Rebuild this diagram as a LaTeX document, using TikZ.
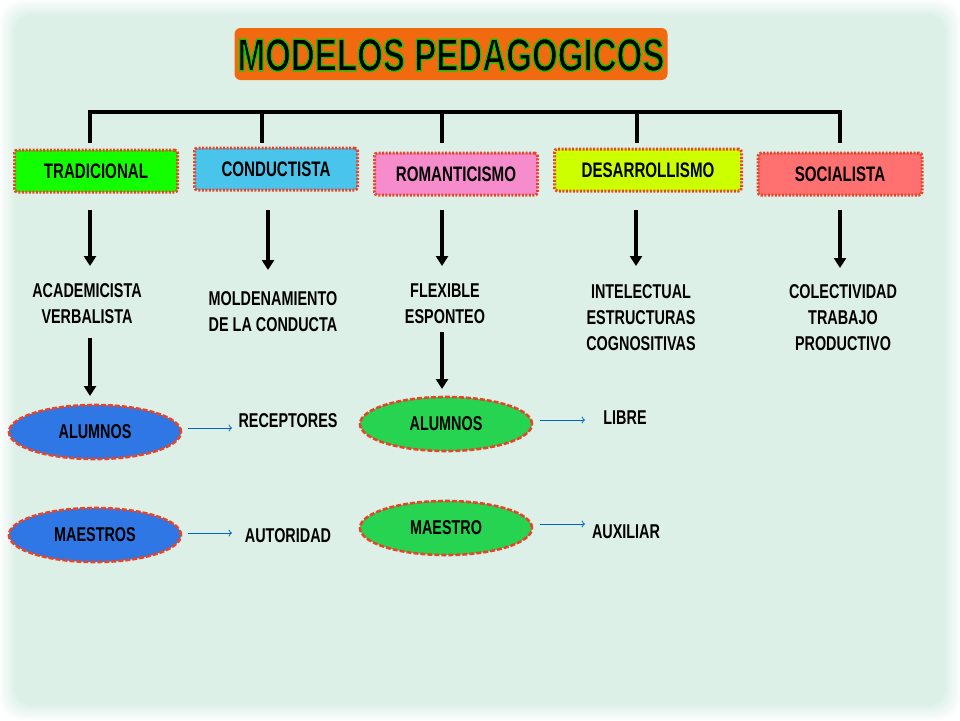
\documentclass[tikz,border=0pt]{standalone}
\usepackage{fontspec}
\setmainfont{Liberation Sans}
\newfontfamily\narrowf[FakeStretch=0.72]{Liberation Sans}
\usetikzlibrary{shapes.geometric,arrows.meta}
\definecolor{bg}{HTML}{DDF0E8}
\definecolor{orng}{HTML}{F26A0F}
\definecolor{redd}{HTML}{E8442A}
\tikzset{
  cat/.style={draw=redd,line width=3pt,dash pattern=on 2pt off 1.5pt,rounded corners=3pt,minimum height=42pt,font=\narrowf\bfseries\fontsize{21}{21}\selectfont},
  lbl/.style={font=\narrowf\bfseries\fontsize{20}{26}\selectfont,align=center},
  ell/.style={ellipse,draw=redd,line width=2.6pt,dash pattern=on 5pt off 2pt,minimum width=172pt,minimum height=54pt,font=\narrowf\bfseries\fontsize{20}{20}\selectfont},
  bigarr/.style={-{Triangle[length=10pt,width=12pt]},line width=3.5pt},
  thin/.style={->,draw=blue!50!cyan!80!black,line width=0.8pt},
  bus/.style={line width=3.5pt}
}
\begin{document}
\begin{tikzpicture}[x=1pt,y=-1pt]
\useasboundingbox (0,0) rectangle (960,720);
\fill[white] (0,0) rectangle (960,720);
\foreach \i in {0,...,9}{\fill[bg!\the\numexpr 10+\i*10\relax!white,rounded corners=20pt] (\i*1.6,\i*1.6) rectangle (960-\i*1.6,720-\i*1.6);}
\fill[bg,rounded corners=30pt] (20,20) rectangle (940,700);
\node[fill=orng,rounded corners=6pt,minimum width=433pt,minimum height=52pt] (t) at (451,54) {};
\node[font=\narrowf\bfseries\fontsize{46}{46}\selectfont,text=black] (title) at (451,55) {\special{pdf:code 2 Tr 0 0.8 0 RG 1.2 w}MODELOS PEDAGOGICOS\special{pdf:code 0 Tr}};
\coordinate (b1) at (90,112); \coordinate (b5) at (840,112);
\node[cat,fill=green!90!lime,minimum width=163pt] (c1) at (96,171) {TRADICIONAL};
\node[cat,fill=cyan!70!white!95!green,minimum width=163pt] (c2) at (276,169) {CONDUCTISTA};
\node[cat,fill=magenta!45!white,minimum width=163pt] (c3) at (456,174) {ROMANTICISMO};
\node[cat,fill=lime!80!yellow,minimum width=187pt] (c4) at (648,170) {DESARROLLISMO};
\node[cat,fill=red!50!pink!90!white,minimum width=164pt] (c5) at (840,174) {SOCIALISTA};
\draw[bus] (90,143) |- (b5) -- (840,143);
\foreach \x in {262,442,637}{\draw[bus] (\x,112) -- (\x,143);}
\node[lbl] (d1) at (87,304) {ACADEMICISTA\\VERBALISTA};
\node[lbl] (d2) at (273,312) {MOLDENAMIENTO\\DE LA CONDUCTA};
\node[lbl] (d3) at (445,304) {FLEXIBLE\\ESPONTEO};
\node[lbl] (d4) at (641,318) {INTELECTUAL\\ESTRUCTURAS\\COGNOSITIVAS};
\node[lbl] (d5) at (843,318) {COLECTIVIDAD\\TRABAJO\\PRODUCTIVO};
\draw[bigarr] (90,210) -- (90,266);
\draw[bigarr] (268,210) -- (268,270);
\draw[bigarr] (442,210) -- (442,266);
\draw[bigarr] (636,210) -- (636,266);
\draw[bigarr] (840,210) -- (840,268);
\node[ell,fill=blue!60!cyan!80!white!90!black] (a1) at (95,432) {ALUMNOS};
\node[ell,fill=blue!60!cyan!80!white!90!black] (m1) at (95,535) {MAESTROS};
\node[ell,fill=green!60!teal!85!white] (a2) at (446,424) {ALUMNOS};
\node[ell,fill=green!60!teal!85!white] (m2) at (446,528) {MAESTRO};
\draw[bigarr] (90,338) -- (90,396);
\draw[bigarr] (442,332) -- (442,389);
\node[lbl] (r1) at (288,421) {RECEPTORES};
\node[lbl] (r2) at (288,536) {AUTORIDAD};
\node[lbl] (r3) at (625,418) {LIBRE};
\node[lbl] (r4) at (626,532) {AUXILIAR};
\draw[thin] (188,428) -- (232,428);
\draw[thin] (188,533) -- (232,533);
\draw[thin] (540,420) -- (585,420);
\draw[thin] (540,524) -- (585,524);
\end{tikzpicture}
\end{document}
